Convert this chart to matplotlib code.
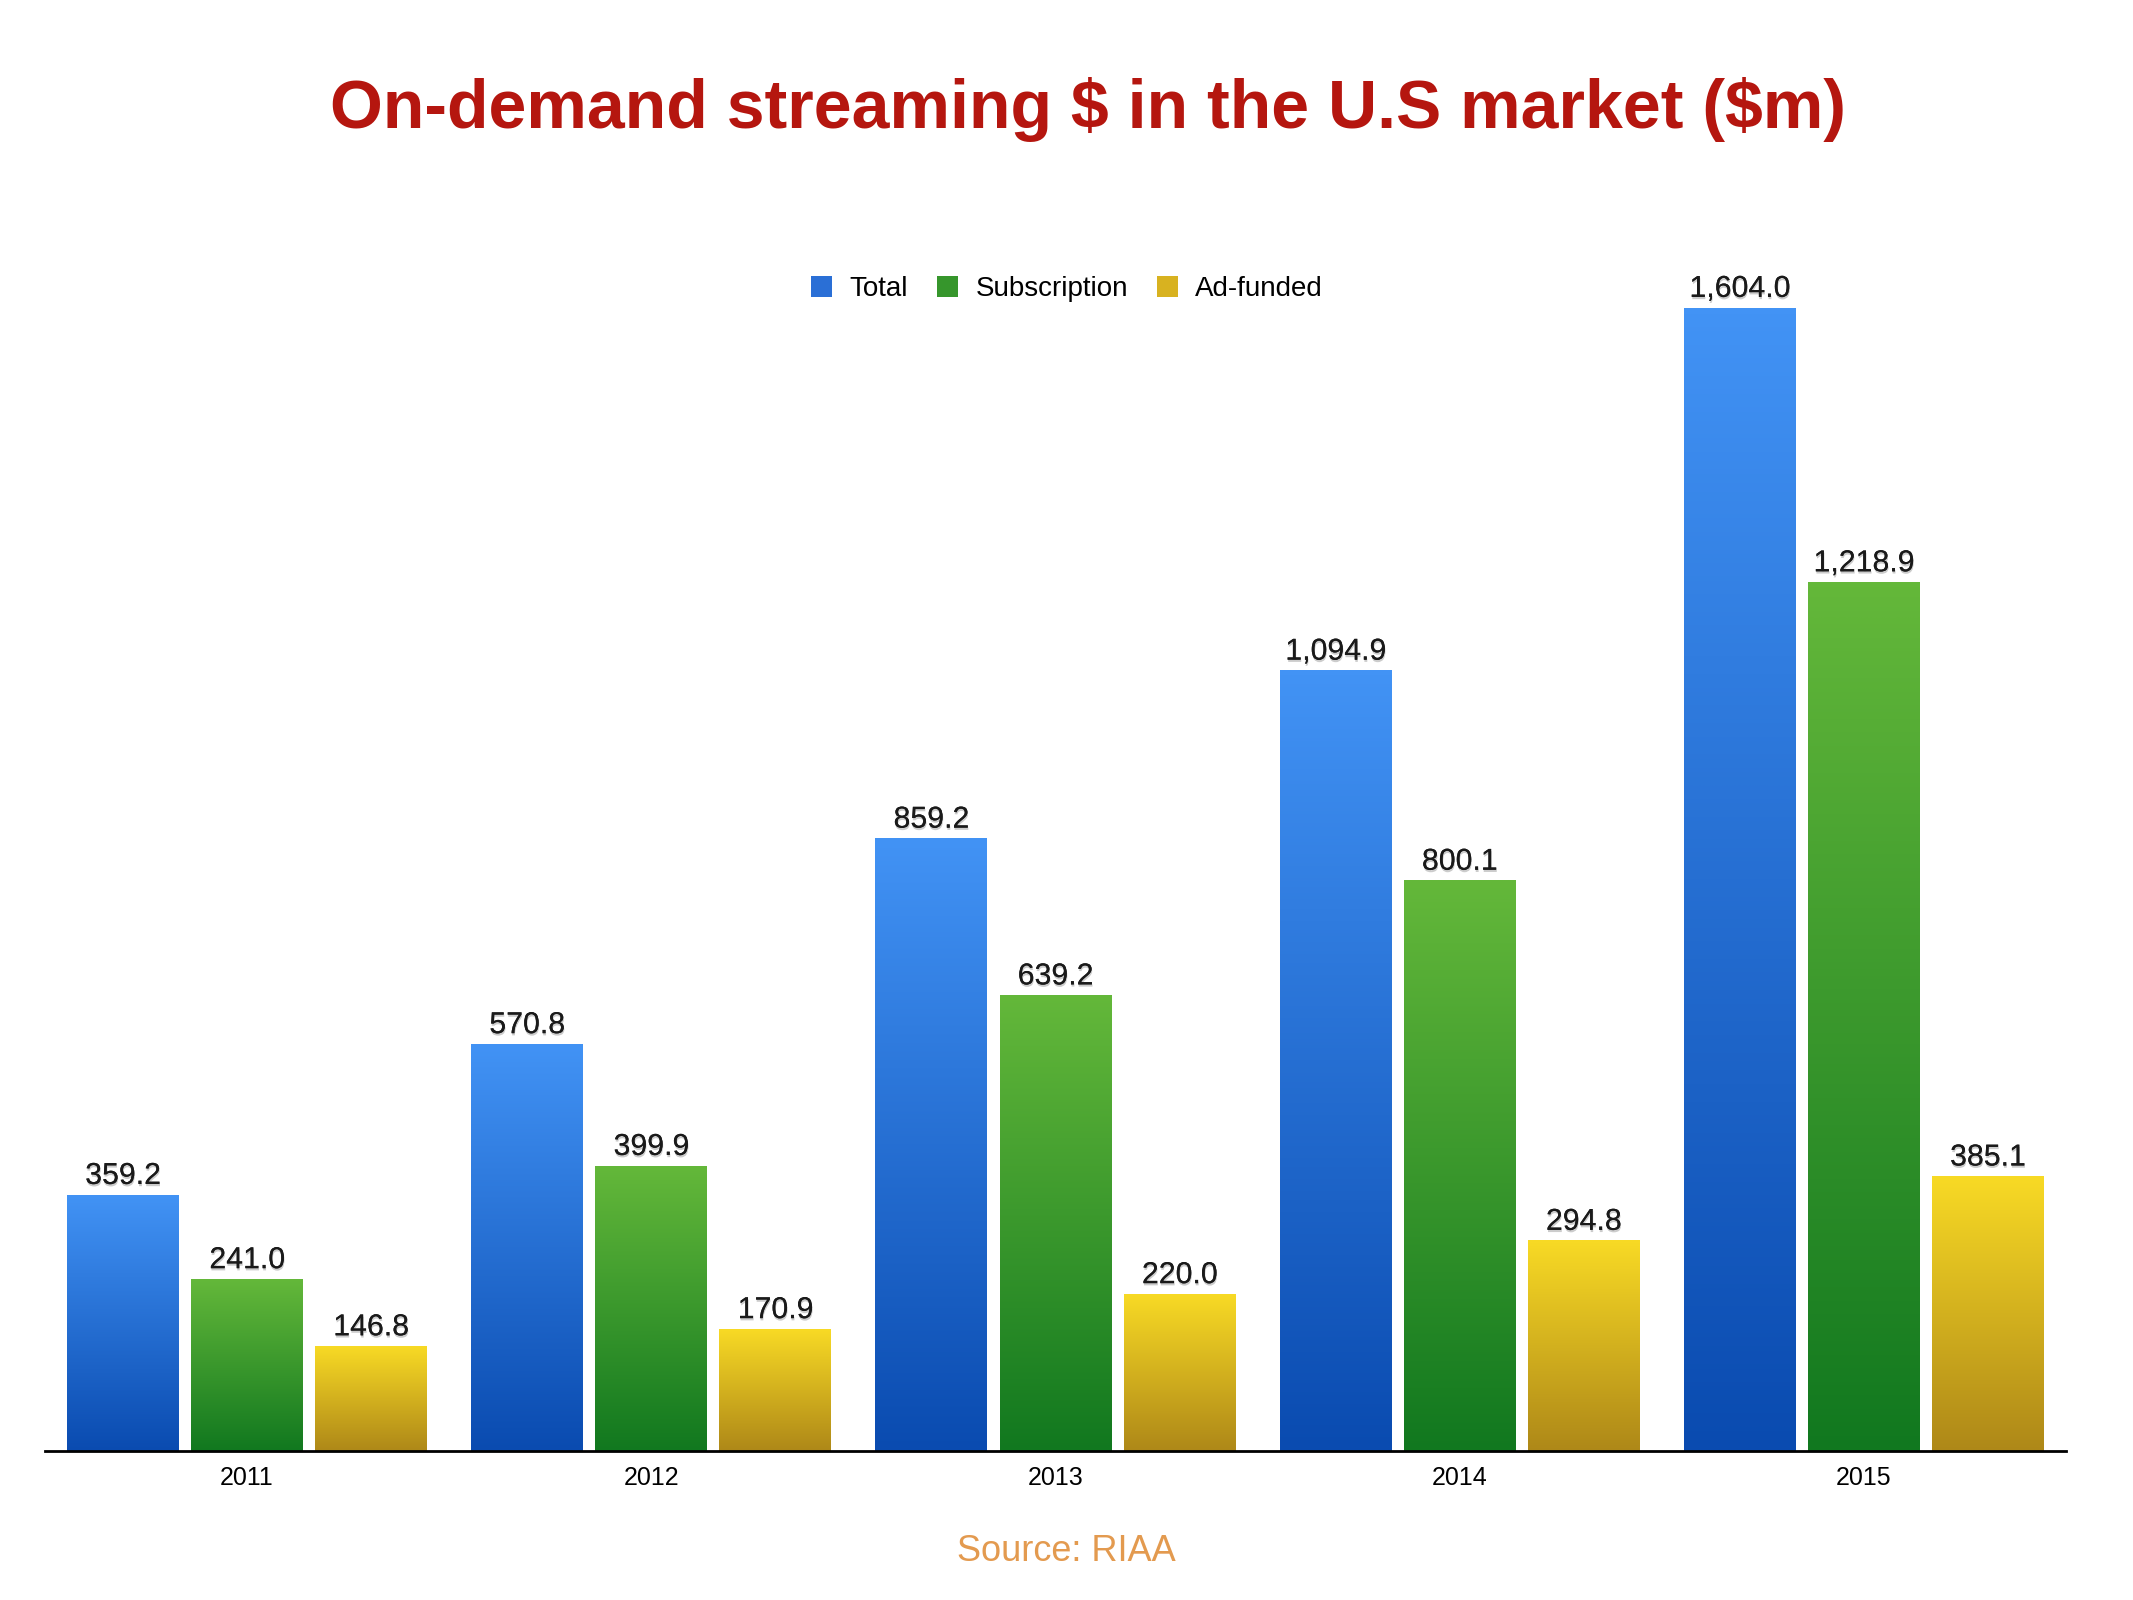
import numpy as np
import matplotlib
matplotlib.use("Agg")
import matplotlib.pyplot as plt
from matplotlib.colors import LinearSegmentedColormap
from matplotlib.patches import Patch
import matplotlib.patheffects as pe

plt.rcParams['font.family'] = ['Liberation Sans', 'DejaVu Sans']

years = ['2011', '2012', '2013', '2014', '2015']
total = [359.2, 570.8, 859.2, 1094.9, 1604.0]
subscription = [241.0, 399.9, 639.2, 800.1, 1218.9]
ad_funded = [146.8, 170.9, 220.0, 294.8, 385.1]
series_names = ['Total', 'Subscription', 'Ad-funded']

grad = {
    'Total': ('#4293f5', '#0a4bb0'),
    'Subscription': ('#64b83a', '#11781f'),
    'Ad-funded': ('#f8da25', '#ae8818'),
}

fig = plt.figure(figsize=(10.665, 8), dpi=200)
ax = fig.add_axes([0.0211, 0.0931, 0.9475, 0.7144])

x = np.arange(len(years))
offsets = [-0.307, 0.0, 0.307]
width = 0.277

for name, vals, off in zip(series_names, [total, subscription, ad_funded], offsets):
    bars = ax.bar(x + off, vals, width, color='none', edgecolor='none', zorder=2)
    top, bot = grad[name]
    cmap = LinearSegmentedColormap.from_list(name, [top, bot])
    g = np.linspace(0, 1, 256).reshape(-1, 1)
    for b, v in zip(bars, vals):
        x0 = b.get_x()
        x1 = x0 + b.get_width()
        h = b.get_height()
        ax.imshow(g, cmap=cmap, extent=[x0, x1, 0, h], aspect='auto',
                  interpolation='bicubic', zorder=2)
        ax.annotate(f'{v:,.1f}', xy=(x0 + b.get_width() / 2, h),
                    xytext=(0, 4), textcoords='offset points',
                    ha='center', va='baseline', fontsize=10.9, color='#1a1a1a',
                    zorder=4, annotation_clip=False,
                    path_effects=[pe.withSimplePatchShadow(offset=(0.2, -0.8),
                                                           shadow_rgbFace='black',
                                                           alpha=0.2),
                                  pe.Normal()])

ax.set_xlim(-0.5, 4.5)
ax.set_ylim(0, 1604)
ax.set_xticks(x)
ax.set_xticklabels(years, fontsize=9)
ax.tick_params(axis='x', length=0, pad=5.5)
ax.set_yticks([])
for s in ['top', 'left', 'right']:
    ax.spines[s].set_visible(False)
ax.spines['bottom'].set_linewidth(1.0)
ax.spines['bottom'].set_color('black')
ax.spines['bottom'].set_zorder(5)
ax.set_facecolor('none')

handles = [Patch(facecolor=c, edgecolor='none') for c in ['#2a6fd6', '#36962c', '#d8b220']]
fig.legend(handles, series_names, loc='center', bbox_to_anchor=(0.5003, 0.8194),
           ncol=3, frameon=False, fontsize=10, handlelength=0.76, handleheight=0.76,
           handletextpad=0.62, columnspacing=1.05)

fig.text(0.510, 0.92, r'On-demand streaming \$ in the U.S market (\$m)', ha='center',
         va='baseline', fontsize=24.5, fontweight='bold', color='#b5160f')
fig.text(0.4998, 0.0244, 'Source: RIAA', ha='center', va='baseline',
         fontsize=13, color='#e39a4f')

fig.savefig('out.png', dpi=200)
